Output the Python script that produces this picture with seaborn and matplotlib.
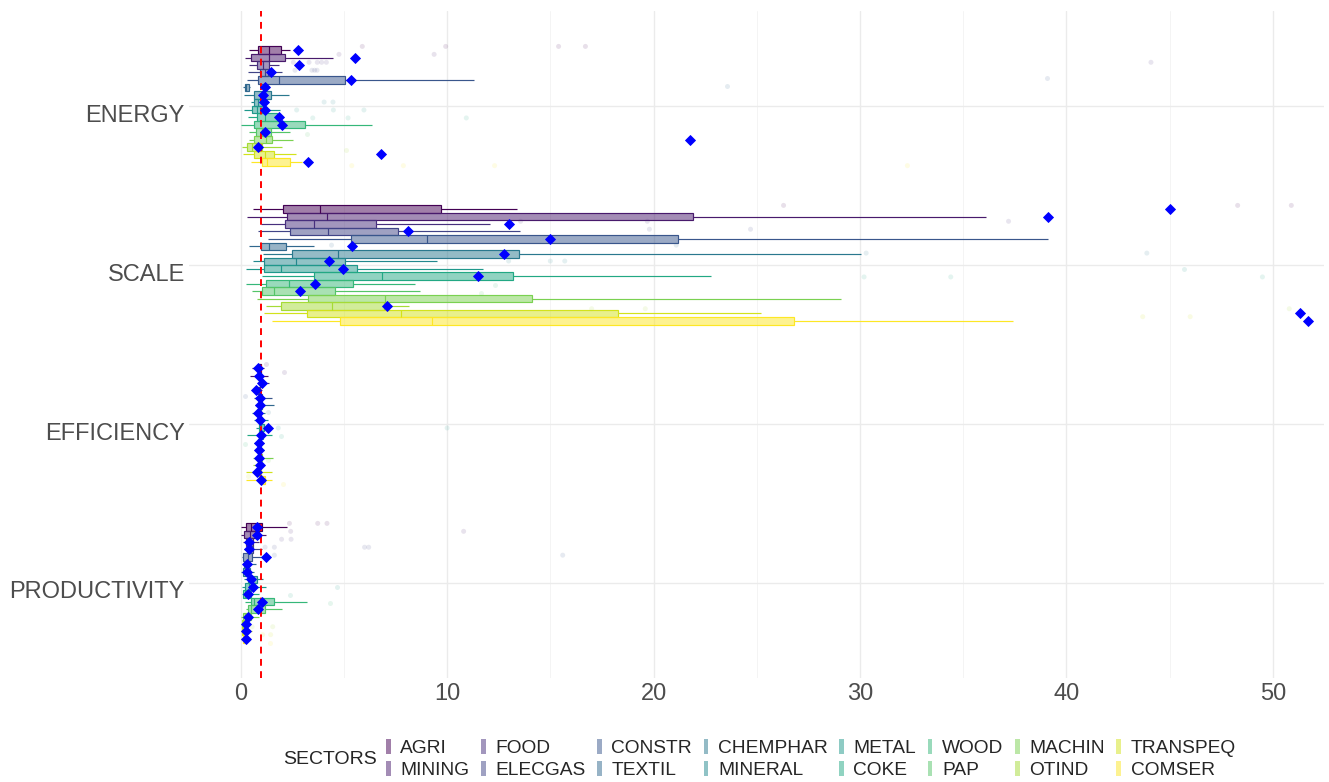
import matplotlib
matplotlib.use("Agg")
import matplotlib.pyplot as plt
import numpy as np
import pandas as pd
import seaborn as sns
from matplotlib.colors import to_rgba
from matplotlib.patches import Patch
from matplotlib.transforms import ScaledTranslation

SECTORS = ["AGRI", "MINING", "FOOD", "ELECGAS", "CONSTR", "TEXTIL", "CHEMPHAR", "MINERAL",
           "METAL", "COKE", "WOOD", "PAP", "MACHIN", "OTIND", "TRANSPEQ", "COMSER"]
INDICATORS = ["ENERGY", "SCALE", "EFFICIENCY", "PRODUCTIVITY"]

# box summaries per sector (SECTORS order): whisker low, q1, median, q3, whisker high, mean
ENERGY_LO = [0.42, 0.21, 0.39, 0.34, 0.32, 0.10, 0.18, 0.48, 0.16, 0.37, 0.01, 0.42, 0.40, 0.05, 0.13, 0.48]
ENERGY_Q1 = [0.85, 0.50, 0.77, 0.94, 0.85, 0.19, 0.66, 0.66, 0.53, 0.77, 0.66, 0.73, 0.64, 0.29, 0.64, 1.02]
ENERGY_MED = [1.35, 1.39, 1.06, 1.18, 1.87, 0.26, 1.02, 0.85, 0.80, 1.18, 1.85, 1.05, 1.23, 0.56, 1.18, 1.29]
ENERGY_Q3 = [1.97, 2.16, 1.39, 1.34, 5.05, 0.39, 1.48, 1.07, 1.10, 1.74, 3.12, 1.45, 1.53, 1.05, 1.63, 2.39]
ENERGY_HI = [2.39, 4.49, 1.84, 1.99, 11.32, 0.45, 2.33, 1.29, 1.90, 2.07, 6.35, 2.39, 2.55, 1.99, 2.66, 2.96]
ENERGY_MEAN = [2.77, 5.54, 2.80, 1.46, 5.34, 1.19, 1.07, 1.11, 1.18, 1.84, 2.02, 1.19, 21.77, 0.82, 6.80, 3.26]

SCALE_LO = [0.58, 0.29, 0.98, 0.85, 1.31, 0.40, 1.10, 0.61, 0.24, 1.02, 0.24, 0.56, 0.78, 1.21, 1.13, 1.50]
SCALE_Q1 = [2.07, 2.26, 2.13, 2.37, 5.34, 1.00, 2.47, 1.15, 1.15, 3.57, 1.24, 1.02, 3.28, 1.94, 3.23, 4.81]
SCALE_MED = [3.86, 4.18, 3.57, 4.23, 9.04, 1.39, 4.70, 2.70, 1.94, 6.83, 2.33, 1.60, 6.99, 4.42, 7.78, 9.25]
SCALE_Q3 = [9.72, 21.9, 6.57, 7.64, 21.2, 2.21, 13.5, 5.07, 5.65, 13.21, 5.46, 4.58, 14.1, 6.94, 18.3, 26.8]
SCALE_HI = [13.37, 36.1, 12.08, 13.53, 39.1, 3.57, 30.07, 9.53, 11.76, 22.8, 8.46, 8.69, 29.1, 8.15, 25.2, 37.4]
SCALE_MEAN = [45.0, 39.1, 12.98, 8.09, 15.0, 5.38, 12.76, 4.29, 4.94, 11.51, 3.62, 2.89, np.nan, 7.09, 51.3, 51.7]

EFFICIENCY_LO = [0.55, 0.45, 0.85, 0.65, 0.62, 0.70, 0.55, 0.65, 0.75, 0.32, 0.65, 0.70, 0.60, 0.60, 0.25, 0.25]
EFFICIENCY_Q1 = [0.82, 0.85, 0.93, 0.80, 0.88, 0.88, 0.82, 0.88, 0.90, 0.88, 0.85, 0.85, 0.88, 0.85, 0.85, 0.92]
EFFICIENCY_MED = [0.90, 0.92, 1.00, 0.88, 0.95, 0.95, 0.90, 0.95, 1.00, 0.97, 0.92, 0.93, 0.95, 0.92, 0.92, 1.00]
EFFICIENCY_Q3 = [0.97, 1.00, 1.05, 0.95, 1.02, 1.05, 0.98, 1.02, 1.15, 1.07, 0.98, 1.00, 1.02, 1.00, 1.00, 1.18]
EFFICIENCY_HI = [1.12, 1.30, 1.35, 1.05, 1.50, 1.60, 1.20, 1.30, 1.25, 1.50, 1.15, 1.15, 1.55, 1.10, 1.50, 1.50]
EFFICIENCY_MEAN = [0.84, 0.87, 1.02, 0.74, 0.95, 0.93, 0.85, 0.93, 1.31, 1.00, 0.87, 0.87, 0.90, 0.93, 0.81, 1.00]

PRODUCTIVITY_LO = [0.02, 0.02, 0.10, 0.18, 0.06, 0.10, 0.02, 0.18, 0.06, 0.06, 0.20, 0.26, 0.02, 0.02, 0.02, 0.02]
PRODUCTIVITY_Q1 = [0.26, 0.18, 0.26, 0.29, 0.13, 0.16, 0.13, 0.34, 0.23, 0.13, 0.50, 0.34, 0.10, 0.06, 0.06, 0.10]
PRODUCTIVITY_MED = [0.50, 0.45, 0.39, 0.42, 0.34, 0.26, 0.26, 0.50, 0.39, 0.23, 0.62, 0.50, 0.23, 0.13, 0.13, 0.18]
PRODUCTIVITY_Q3 = [1.03, 0.90, 0.58, 0.58, 0.55, 0.39, 0.45, 0.77, 0.66, 0.50, 1.63, 1.20, 0.50, 0.26, 0.23, 0.26]
PRODUCTIVITY_HI = [2.23, 1.23, 0.90, 1.03, 1.03, 0.74, 0.66, 1.06, 1.23, 0.90, 3.20, 2.00, 0.90, 0.42, 0.55, 0.42]
PRODUCTIVITY_MEAN = [0.79, 0.77, 0.42, 0.42, 1.23, 0.29, 0.29, 0.50, 0.58, 0.35, 1.03, 0.82, 0.34, 0.26, 0.26, 0.26]

# outlying observations per sector
ENERGY_OUT = {"AGRI": [5.89, 9.93, 15.4, 16.7], "MINING": [4.76, 9.37],
              "FOOD": [2.55, 3.31, 3.71, 3.92, 4.15, 44.1], "ELECGAS": [2.63, 3.45, 3.58, 3.70],
              "CONSTR": [39.05], "TEXTIL": [23.56], "MINERAL": [4.04, 4.47], "METAL": [2.71, 4.49, 5.97],
              "COKE": [3.49, 5.20, 10.93], "PAP": [3.20], "OTIND": [5.08], "COMSER": [5.38, 7.88, 12.3, 32.3]}
SCALE_OUT = {"AGRI": [26.3, 48.3, 50.9], "FOOD": [13.56, 19.7, 37.2], "ELECGAS": [19.8, 24.7],
             "TEXTIL": [4.4, 21.1], "CHEMPHAR": [30.3, 43.9], "MINERAL": [12.98, 15.0, 15.7],
             "METAL": [45.7], "COKE": [30.2, 34.4, 49.5], "WOOD": [12.34], "PAP": [11.66],
             "OTIND": [17.0, 19.6, 50.8], "TRANSPEQ": [43.7, 46.0]}
EFFICIENCY_OUT = {"AGRI": [1.21], "MINING": [2.1], "CONSTR": [0.21], "CHEMPHAR": [1.31],
                  "METAL": [1.82, 10.0], "COKE": [1.95], "WOOD": [0.21], "MACHIN": [1.34],
                  "TRANSPEQ": [0.37], "COMSER": [2.04]}
PRODUCTIVITY_OUT = {"AGRI": [2.36, 3.73, 4.18], "MINING": [2.42, 10.8], "FOOD": [1.98, 2.44],
                    "ELECGAS": [1.18, 1.63, 6.0, 6.2], "CONSTR": [1.63, 15.6], "METAL": [4.66],
                    "COKE": [2.39], "WOOD": [4.33], "OTIND": [0.55, 1.55], "TRANSPEQ": [1.06, 1.45],
                    "COMSER": [1.42]}

summaries = {
    "ENERGY": (ENERGY_LO, ENERGY_Q1, ENERGY_MED, ENERGY_Q3, ENERGY_HI, ENERGY_MEAN, ENERGY_OUT),
    "SCALE": (SCALE_LO, SCALE_Q1, SCALE_MED, SCALE_Q3, SCALE_HI, SCALE_MEAN, SCALE_OUT),
    "EFFICIENCY": (EFFICIENCY_LO, EFFICIENCY_Q1, EFFICIENCY_MED, EFFICIENCY_Q3, EFFICIENCY_HI,
                   EFFICIENCY_MEAN, EFFICIENCY_OUT),
    "PRODUCTIVITY": (PRODUCTIVITY_LO, PRODUCTIVITY_Q1, PRODUCTIVITY_MED, PRODUCTIVITY_Q3,
                     PRODUCTIVITY_HI, PRODUCTIVITY_MEAN, PRODUCTIVITY_OUT),
}

box_rows, mean_rows, out_rows = [], [], []
for ind, (lo, q1, med, q3, hi, mean, outs) in summaries.items():
    for i, sec in enumerate(SECTORS):
        # five values reproduce quartiles exactly; whiskers drawn to min/max
        for v in (lo[i], q1[i], med[i], q3[i], hi[i]):
            box_rows.append((ind, sec, v))
        mean_rows.append((ind, sec, mean[i]))
    for sec, vals in outs.items():
        for v in vals:
            out_rows.append((ind, sec, v))
box_df = pd.DataFrame(box_rows, columns=["indicator", "sector", "value"])
mean_df = pd.DataFrame(mean_rows, columns=["indicator", "sector", "value"])
out_df = pd.DataFrame(out_rows, columns=["indicator", "sector", "value"])

colors = [plt.get_cmap("viridis")(t) for t in np.linspace(0, 1, len(SECTORS))]
palette = dict(zip(SECTORS, colors))

sns.set_style("white")
plt.rcParams["font.family"] = ["Liberation Sans", "DejaVu Sans"]

fig = plt.figure(figsize=(13.29, 7.82), dpi=100)
ax = fig.add_axes([0.1423, 0.1325, 0.8542, 0.8539])

for sec in SECTORS:
    col = palette[sec]
    sns.boxplot(data=box_df[box_df["sector"] == sec], x="value", y="indicator", hue="sector",
                order=INDICATORS, hue_order=SECTORS, palette=palette, orient="h",
                dodge=True, width=0.75, gap=0, whis=(0, 100), showfliers=False, showcaps=False,
                linecolor=col, linewidth=0.85, boxprops={"facecolor": to_rgba(col, 0.5)},
                legend=False, ax=ax)

sns.stripplot(data=out_df, x="value", y="indicator", hue="sector", order=INDICATORS,
              hue_order=SECTORS, palette=palette, orient="h", dodge=True, jitter=False,
              size=3.6, alpha=0.12, linewidth=0, legend=False, ax=ax)

ax.axvline(1, color="red", lw=1.4, ls=(0, (3.5, 2.8)), zorder=3)

sns.pointplot(data=mean_df, x="value", y="indicator", hue="sector", order=INDICATORS,
              hue_order=SECTORS, palette={s: "blue" for s in SECTORS}, orient="h",
              estimator="mean", errorbar=None, dodge=0.75 * 15 / 16, linestyle="none",
              markers="D", markersize=4.8, markeredgewidth=0.6, legend=False, zorder=4, ax=ax)

ax.set_xlim(-2.5, 52.5)
ax.set_ylim(3.6, -0.6)
ax.set_xticks(np.arange(0, 51, 10))
ax.set_xticks(np.arange(5, 51, 10), minor=True)
ax.set_xlabel("")
ax.set_ylabel("")
ax.set_axisbelow(True)
ax.grid(which="major", axis="both", color="#EBEBEB", lw=1.0)
ax.grid(which="minor", axis="x", color="#F2F2F2", lw=0.6)
for s in ax.spines.values():
    s.set_visible(False)
ax.tick_params(axis="both", which="both", length=0, labelsize=17, labelcolor="#4D4D4D", pad=3)
# category labels sit a little below their grid line, as in the reference
shift = ScaledTranslation(0, -0.07, fig.dpi_scale_trans)
for lab in ax.get_yticklabels():
    lab.set_transform(lab.get_transform() + shift)

handles = [Patch(facecolor=to_rgba(palette[s], 0.5), edgecolor="none") for s in SECTORS]
fig.legend(handles, SECTORS, loc="upper left", bbox_to_anchor=(386 / 1329, 1 - 739 / 782),
           ncol=8, frameon=False, fontsize=13.8, handlelength=0.25, handleheight=0.85,
           handletextpad=0.5, columnspacing=0.6, labelspacing=0.2, borderpad=0, borderaxespad=0)
fig.text(283 / 1329, 1 - 759 / 782, "SECTORS", fontsize=14, va="center", ha="left")

fig.savefig("out.png", dpi=100)
